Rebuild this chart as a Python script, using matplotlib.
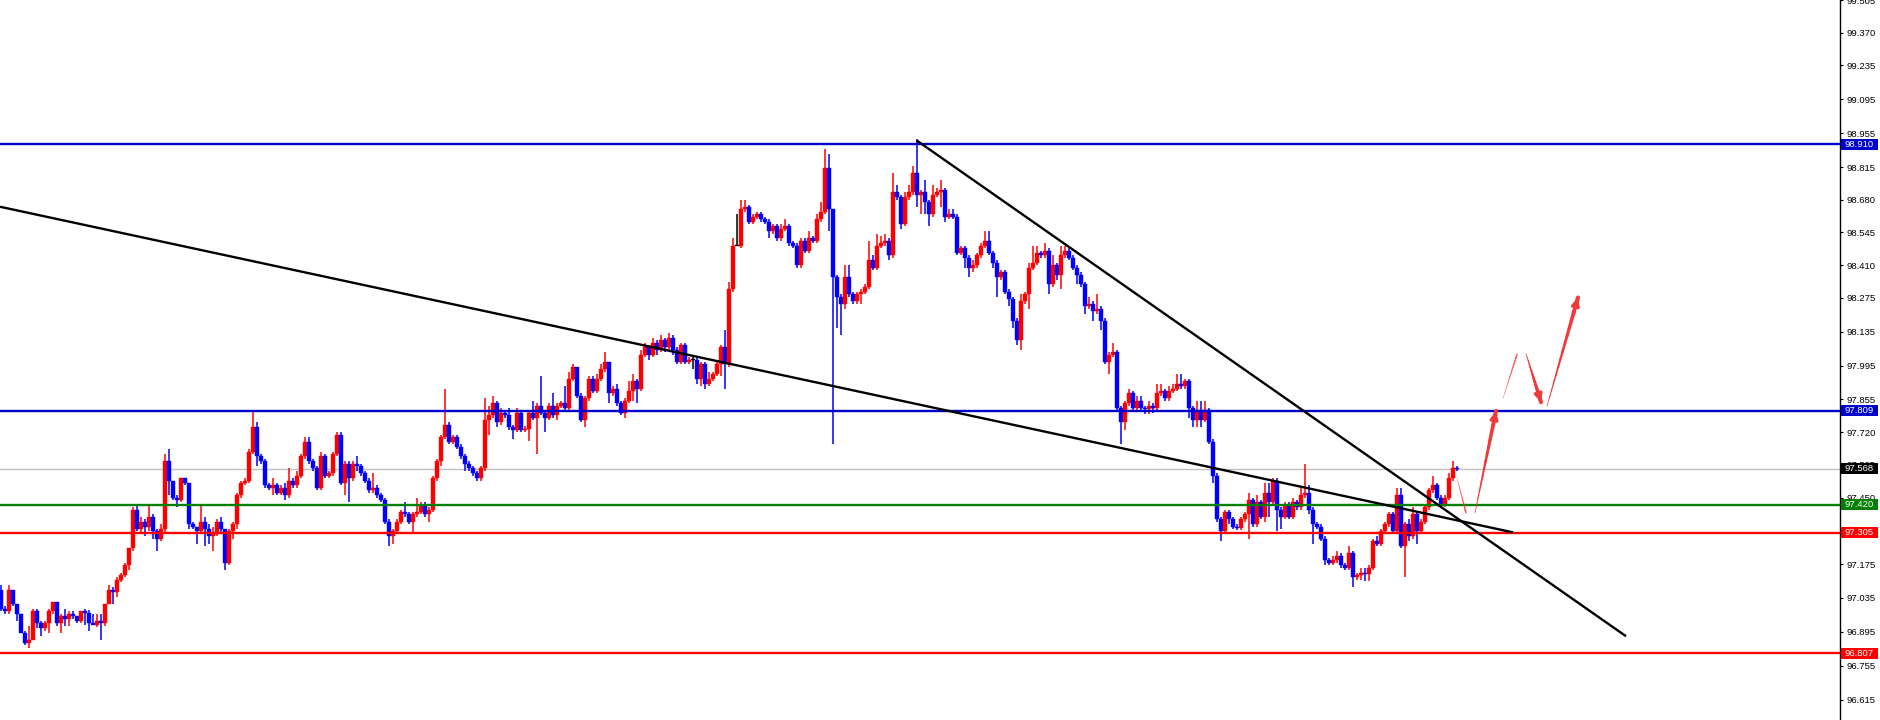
import numpy as np
import matplotlib.pyplot as plt
from matplotlib.collections import LineCollection
from matplotlib.patches import Rectangle
import matplotlib.transforms as mtransforms

plt.rcParams['font.family'] = ['Liberation Sans', 'DejaVu Sans']

# closing prices, one per bar (oldest first)
closes = [
    96.99, 96.98, 97.07, 97.01, 96.97, 96.89, 96.85, 96.86, 96.98, 96.93,
    96.91, 96.93, 96.98, 97.02, 96.93, 96.96, 96.95, 96.97, 96.96, 96.94,
    96.98, 96.975, 96.93, 96.925, 96.94, 96.93, 97.01, 97.07, 97.06, 97.11,
    97.13, 97.17, 97.24, 97.40, 97.32, 97.35, 97.33, 97.37, 97.31, 97.28,
    97.32, 97.60, 97.52, 97.45, 97.44, 97.53, 97.51, 97.34, 97.33, 97.31,
    97.35, 97.32, 97.29, 97.30, 97.35, 97.32, 97.18, 97.31, 97.34, 97.46,
    97.51, 97.52, 97.64, 97.74, 97.62, 97.60, 97.50, 97.49, 97.50, 97.47,
    97.49, 97.46, 97.52, 97.50, 97.54, 97.62, 97.68, 97.60, 97.57, 97.49,
    97.62, 97.54, 97.55, 97.63, 97.71, 97.51, 97.59, 97.53, 97.59, 97.58,
    97.55, 97.52, 97.48, 97.49, 97.46, 97.44, 97.35, 97.29, 97.31, 97.35,
    97.39, 97.38, 97.35, 97.38, 97.39, 97.42, 97.38, 97.40, 97.53, 97.60,
    97.70, 97.75, 97.68, 97.70, 97.66, 97.62, 97.59, 97.57, 97.55, 97.53,
    97.57, 97.77, 97.79, 97.84, 97.76, 97.80, 97.79, 97.74, 97.73, 97.80,
    97.73, 97.735, 97.80, 97.78, 97.83, 97.80, 97.78, 97.83, 97.79, 97.83,
    97.84, 97.82, 97.94, 97.99, 97.87, 97.77, 97.86, 97.94, 97.89, 97.94,
    97.98, 98.01, 97.88, 97.90, 97.84, 97.80, 97.85, 97.89, 97.93, 97.90,
    98.04, 98.07, 98.04, 98.09, 98.06, 98.10, 98.07, 98.11, 98.06, 98.01,
    98.08, 98.01, 98.02, 98.02, 97.94, 98.00, 97.92, 97.94, 97.96, 98.00,
    98.07, 98.00, 98.31, 98.49, 98.49, 98.64, 98.65, 98.59, 98.61, 98.62,
    98.60, 98.59, 98.55, 98.57, 98.52, 98.56, 98.57, 98.50, 98.49, 98.41,
    98.51, 98.47, 98.52, 98.51, 98.60, 98.63, 98.81, 98.64, 98.36, 98.28,
    98.25, 98.36, 98.29, 98.26, 98.29, 98.30, 98.32, 98.43, 98.40, 98.49,
    98.50, 98.51, 98.45, 98.71, 98.69, 98.58, 98.69, 98.71, 98.79, 98.70,
    98.71, 98.67, 98.62, 98.70, 98.71, 98.72, 98.61, 98.62, 98.61, 98.46,
    98.48, 98.44, 98.40, 98.41, 98.45, 98.49, 98.51, 98.46, 98.42, 98.36,
    98.38, 98.30, 98.27, 98.18, 98.10, 98.26, 98.29, 98.40, 98.42, 98.46,
    98.45, 98.47, 98.33, 98.41, 98.37, 98.45, 98.47, 98.44, 98.40, 98.37,
    98.33, 98.24, 98.25, 98.22, 98.23, 98.18, 98.01, 98.04, 98.05, 97.82,
    97.76, 97.84, 97.88, 97.82, 97.85, 97.82, 97.815, 97.83, 97.82, 97.88,
    97.89, 97.86, 97.89, 97.90, 97.92, 97.91, 97.93, 97.82, 97.77, 97.81,
    97.77, 97.81, 97.68, 97.54, 97.36, 97.31, 97.39, 97.36, 97.33, 97.325,
    97.36, 97.38, 97.44, 97.34, 97.43, 97.37, 97.47, 97.43, 97.52, 97.40,
    97.37, 97.42, 97.37, 97.43, 97.41, 97.46, 97.47, 97.40, 97.34, 97.33,
    97.28, 97.19, 97.18, 97.19, 97.21, 97.17, 97.16, 97.22, 97.12, 97.13,
    97.14, 97.135, 97.16, 97.27, 97.26, 97.31, 97.34, 97.38, 97.31, 97.46,
    97.25, 97.34, 97.29, 97.38, 97.31, 97.35, 97.41, 97.48, 97.50, 97.45,
    97.42, 97.45, 97.53, 97.57, 97.568,
]
first_open = 97.07

# wick lengths above / below the body, in hundredths
up_wick = [
    2, 1, 2, 0, 0, 0, 1, 6, 1, 1,  1, 1, 1, 0, 0, 1, 3, 1, 1, 0,
    0, 1, 1, 4, 3, 3, 0, 2, 1, 1,  1, 1, 0, 1, 2, 2, 1, 5, 1, 1,
    2, 3, 5, 0, 1, 0, 0, 0, 1, 0,  7, 2, 2, 3, 1, 2, 0, 1, 1, 1,
    1, 1, 1, 7, 2, 1, 1, 1, 3, 1,  1, 2, 5, 1, 2, 1, 2, 2, 1, 1,
    2, 1, 1, 1, 1, 1, 1, 1, 1, 3,  1, 1, 1, 6, 1, 1, 1, 1, 1, 1,
    1, 4, 1, 1, 6, 1, 1, 1, 1, 1,  1, 15, 1, 1, 1, 1, 1, 1, 1, 1,
    1, 9, 4, 3, 1, 2, 1, 3, 1, 2,  1, 1, 1, 5, 1, 12, 1, 1, 5, 1,
    1, 7, 3, 1, 0, 1, 1, 1, 1, 2,  2, 4, 0, 1, 2, 1, 1, 4, 3, 1,
    2, 2, 1, 2, 1, 2, 1, 2, 1, 1,  1, 1, 1, 1, 1, 1, 1, 3, 1, 1,
    1, 7, 3, 3, 13, 4, 3, 1, 1, 1,  1, 1, 1, 1, 1, 2, 3, 1, 1, 1,
    1, 1, 3, 1, 2, 4, 8, 6, 0, 1,  1, 5, 5, 1, 1, 1, 1, 8, 2, 5,
    3, 3, 1, 8, 3, 1, 2, 3, 3, 14,  1, 5, 1, 4, 2, 4, 1, 2, 2, 1,
    1, 1, 1, 2, 1, 1, 4, 4, 1, 1,  1, 1, 1, 1, 1, 3, 1, 2, 7, 3,
    1, 3, 1, 4, 1, 4, 2, 1, 1, 1,  1, 1, 3, 1, 6, 1, 1, 1, 4, 1,
    1, 1, 2, 1, 2, 2, 1, 2, 1, 4,  3, 1, 2, 2, 4, 4, 1, 1, 1, 4,
    4, 4, 1, 1, 1, 1, 1, 1, 1, 1,  1, 1, 3, 1, 3, 1, 4, 4, 1, 1,
    1, 1, 1, 2, 1, 3, 12, 3, 1, 1,  1, 1, 1, 2, 2, 1, 1, 3, 1, 1,
    2, 2, 1, 1, 2, 1, 1, 1, 1, 3,  3, 1, 2, 3, 1, 1, 1, 1, 4, 1,
    1, 1, 2, 3, 1,
]
down_wick = [
    1, 1, 1, 1, 3, 0, 1, 2, 0, 2,  3, 1, 4, 1, 1, 4, 3, 3, 1, 1,
    1, 5, 3, 0, 1, 7, 1, 0, 5, 2,  1, 1, 2, 1, 1, 2, 4, 2, 3, 5,
    1, 2, 6, 1, 3, 1, 1, 2, 1, 5,  1, 7, 3, 6, 1, 2, 3, 1, 3, 2,
    1, 1, 1, 1, 4, 1, 1, 1, 3, 1,  1, 2, 1, 1, 1, 1, 1, 1, 1, 1,
    1, 1, 1, 1, 1, 1, 5, 10, 1, 2,  1, 1, 1, 1, 1, 1, 1, 4, 3, 1,
    1, 1, 1, 5, 1, 1, 1, 3, 1, 1,  2, 1, 1, 1, 1, 1, 3, 1, 1, 1,
    1, 1, 6, 1, 2, 1, 1, 1, 4, 1,  1, 1, 5, 1, 15, 1, 6, 1, 1, 2,
    1, 1, 1, 1, 1, 1, 3, 1, 1, 1,  1, 1, 4, 1, 1, 1, 2, 1, 4, 6,
    1, 1, 2, 1, 2, 1, 2, 1, 2, 1,  1, 1, 1, 4, 2, 3, 2, 1, 1, 1,
    5, 10, 1, 1, 0, 1, 1, 1, 1, 1,  1, 1, 3, 1, 1, 1, 1, 1, 1, 1,
    1, 1, 1, 1, 1, 1, 1, 9, 69, 13,  13, 2, 1, 1, 1, 4, 1, 1, 1, 1,
    1, 1, 2, 1, 1, 2, 1, 1, 1, 5,  8, 5, 5, 1, 1, 6, 2, 1, 1, 1,
    1, 4, 4, 2, 1, 1, 1, 1, 2, 8,  1, 1, 3, 3, 2, 4, 1, 6, 1, 1,
    1, 1, 4, 1, 2, 6, 1, 1, 1, 4,  1, 3, 1, 4, 1, 4, 1, 5, 1, 1,
    9, 3, 1, 1, 1, 1, 2, 2, 2, 1,  1, 1, 1, 1, 1, 1, 1, 4, 3, 3,
    3, 1, 1, 3, 1, 4, 1, 2, 1, 1,  1, 1, 10, 1, 1, 1, 2, 6, 1, 9,
    5, 1, 1, 1, 1, 1, 1, 2, 8, 1,  1, 2, 1, 1, 1, 1, 1, 1, 4, 1,
    2, 3, 3, 1, 1, 1, 1, 1, 1, 1,  1, 13, 2, 1, 5, 1, 1, 1, 1, 1,
    1, 1, 1, 1, 1,
]

# horizontal levels drawn on the chart
level_prices = [98.910, 97.809, 97.420, 97.305, 96.807]
level_colors = ['#0000cd', '#0000cd', '#008000', '#ff0000', '#ff0000']
last_price = 97.568

# trend lines: (bar index, price) at both ends
trend_a = ([-0.25, 378.0], [98.651, 97.306])
trend_b = ([228.9, 406.25], [98.925, 96.877])

# forecast path drawn after the last bar: (bar index, price) start and end
forecast = [
    ((364.0, 97.531), (366.25, 97.387), 'thin'),
    ((368.5, 97.387), (373.75, 97.807), 'arrow'),
    ((375.5, 97.860), (379.0, 98.041), 'thin'),
    ((381.25, 98.045), (385.0, 97.844), 'arrow'),
    ((386.5, 97.827), (394.25, 98.276), 'arrow'),
]

tick_values = [99.505, 99.370, 99.235, 99.095, 98.955, 98.815, 98.680, 98.545,
               98.410, 98.275, 98.135, 97.995, 97.855, 97.720, 97.585, 97.450,
               97.315, 97.175, 97.035, 96.895, 96.755, 96.615]

closes = np.array(closes)
opens = np.concatenate([[first_open], closes[:-1]])
highs = np.maximum(opens, closes) + np.array(up_wick) / 100
lows = np.minimum(opens, closes) - np.array(down_wick) / 100
x = np.arange(len(closes))

colors = np.where(closes > opens, '#ff0000', '#0000ff')
colors = np.where(np.isclose(closes, opens), '#000000', colors)

fig = plt.figure(figsize=(18.8, 7.2), dpi=100)
ax = fig.add_axes([0, 0, 1840 / 1880, 1])
ax.set_xlim(-0.25, 459.75)
ax.set_ylim(96.531, 99.494)

# candles
ax.vlines(x, lows, highs, colors=colors, linewidth=1.1, zorder=2)
body = np.maximum(np.abs(closes - opens), 0.004)
ax.bar(x, body, bottom=np.minimum(opens, closes), width=0.78,
       color=colors, edgecolor=colors, linewidth=0.3, zorder=2)

# levels
ax.axhline(last_price, color='#c0c0c0', linewidth=1.0, zorder=1)
for p, c in zip(level_prices, level_colors):
    ax.axhline(p, color=c, linewidth=1.7, zorder=3)

# trend lines
for xs, ys in (trend_a, trend_b):
    ax.plot(xs, ys, color='black', linewidth=1.7, zorder=4,
            solid_capstyle='butt')

# forecast arrows, tapered
arrow_red = '#f03a3a'
for (x0, y0), (x1, y1), kind in forecast:
    n = 14
    px = np.linspace(x0, x1, n + 1)
    py = np.linspace(y0, y1, n + 1)
    segs = [[(px[k], py[k]), (px[k + 1], py[k + 1])] for k in range(n)]
    if kind == 'thin':
        widths = np.linspace(0.3, 1.2, n)
        alpha = 0.75
    else:
        widths = np.linspace(0.5, 3.0, n)
        alpha = 1.0
    ax.add_collection(LineCollection(segs, linewidths=widths, colors=arrow_red,
                                     alpha=alpha, zorder=5, capstyle='round'))
    if kind == 'arrow':
        ax.annotate('', xy=(x1, y1), xytext=(px[-3], py[-3]),
                    arrowprops=dict(arrowstyle='-|>,head_length=0.45,head_width=0.22',
                                    color=arrow_red, lw=2.2, shrinkA=0, shrinkB=0),
                    zorder=5)

# right price scale
for s in ('left', 'top', 'bottom'):
    ax.spines[s].set_visible(False)
ax.spines['right'].set_linewidth(1.0)
ax.spines['right'].set_color('black')
ax.set_xticks([])
ax.yaxis.tick_right()
ax.set_yticks(tick_values)
ax.set_yticklabels([f'{v:.3f}' for v in tick_values])
ax.tick_params(axis='y', direction='out', length=2.5, width=0.8, pad=2,
               labelsize=6.8, colors='black')

# price boxes on the scale
trans = mtransforms.blended_transform_factory(ax.transAxes, ax.transData)
box_w = 37 / 1840
box_h = 11 / 243
boxes = list(zip(level_prices, level_colors)) + [(last_price, '#000000')]
for p, c in boxes:
    ax.add_patch(Rectangle((1.0005, p - box_h / 2), box_w, box_h, transform=trans,
                           facecolor=c, edgecolor='none', clip_on=False, zorder=10))
    ax.text(1.0005 + box_w / 2, p, f'{p:.3f}', transform=trans, ha='center',
            va='center', color='white', fontsize=6.8, clip_on=False, zorder=11)

fig.savefig('out.png', dpi=100, facecolor='white')
